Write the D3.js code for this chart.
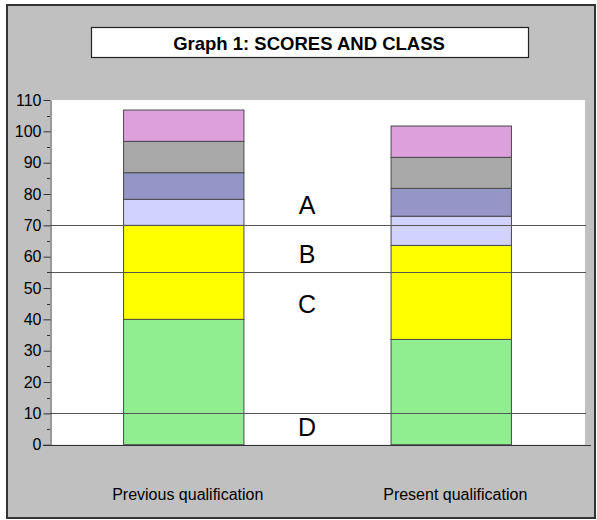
<!DOCTYPE html>
<html>
<head>
<meta charset="utf-8">
<script src="https://cdn.jsdelivr.net/npm/d3@7"></script>
<style>
  body { margin: 0; background: #fff; }
  text { font-family: "Liberation Sans", Arial, sans-serif; }
</style>
</head>
<body>
<script>
// chart data
var categories = ['Previous qualification', 'Present qualification'];
var segmentNames = ['s1', 's2', 's3', 's4', 's5', 's6'];
var prevValues = [40, 30, 8.3, 8.5, 10, 10];
var presentValues = [33.6, 30, 9.3, 8.9, 9.9, 10];
var segmentColors = ['#90ee90', '#ffff00', '#d2d2ff', '#9595c8', '#a8a8a8', '#dda0dd'];
var classLines = [70, 55, 10];
var classNames = ['A', 'B', 'C', 'D'];
var classLabelPos = [76.5, 60.8, 45, 5.6];
var yTicks = [0, 10, 20, 30, 40, 50, 60, 70, 80, 90, 100, 110];
var title = 'Graph 1: SCORES AND CLASS';

var width = 597;
var height = 520;

var svg = d3.select('body').append('svg')
  .attr('width', width)
  .attr('height', height);

// grey frame
svg.append('rect')
  .attr('x', 7).attr('y', 5)
  .attr('width', 588).attr('height', 513)
  .attr('fill', '#c0c0c0')
  .attr('stroke', '#333')
  .attr('stroke-width', 2);

// title box
svg.append('rect')
  .attr('x', 91.5).attr('y', 27.5)
  .attr('width', 437).attr('height', 30)
  .attr('fill', '#fff')
  .attr('stroke', '#222')
  .attr('stroke-width', 1.2);
svg.append('text')
  .attr('x', 309).attr('y', 49.5)
  .attr('text-anchor', 'middle')
  .attr('font-size', 18.5)
  .attr('font-weight', 'bold')
  .text(title);

var plotLeft = 50, plotRight = 585, plotTop = 100, plotBottom = 444.7;

var x = d3.scaleBand().domain(categories).range([plotLeft, plotRight])
  .paddingInner(0.55).paddingOuter(0.275);
var y = d3.scaleLinear().domain([0, 110]).range([plotBottom, plotTop]);

// white plot area
svg.append('rect')
  .attr('x', plotLeft).attr('y', plotTop)
  .attr('width', plotRight - plotLeft).attr('height', plotBottom - plotTop)
  .attr('fill', '#fff');

// stacked bars
var rows = [prevValues, presentValues].map(function(vals, i) {
  var row = { cat: categories[i] };
  segmentNames.forEach(function(k, j) { row[k] = vals[j]; });
  return row;
});
var stack = d3.stack().keys(segmentNames)(rows);

svg.selectAll('g.layer').data(stack).enter().append('g')
  .attr('class', 'layer')
  .attr('fill', function(d, i) { return segmentColors[i]; })
  .selectAll('rect').data(function(d) { return d; }).enter().append('rect')
  .attr('x', function(d) { return x(d.data.cat); })
  .attr('y', function(d) { return y(d[1]); })
  .attr('width', x.bandwidth())
  .attr('height', function(d) { return y(d[0]) - y(d[1]); })
  .attr('stroke', '#4a4a4a')
  .attr('stroke-width', 1);

// class lines
svg.selectAll('line.cls').data(classLines).enter().append('line')
  .attr('class', 'cls')
  .attr('x1', plotLeft).attr('x2', plotRight + 1)
  .attr('y1', function(d) { return Math.round(y(d)) + 0.5; })
  .attr('y2', function(d) { return Math.round(y(d)) + 0.5; })
  .attr('stroke', '#555')
  .attr('stroke-width', 1);

// class labels
svg.selectAll('text.cls').data(classNames).enter().append('text')
  .attr('class', 'cls')
  .attr('x', 307)
  .attr('y', function(d, i) { return y(classLabelPos[i]) + 9; })
  .attr('text-anchor', 'middle')
  .attr('font-size', 25)
  .text(function(d) { return d; });

// y axis
var yAxis = d3.axisLeft(y).tickValues(yTicks).tickSize(7).tickPadding(2).tickSizeOuter(0);
var ga = svg.append('g').attr('transform', 'translate(' + (plotLeft + 0.5) + ',0)').call(yAxis);
ga.selectAll('text').attr('font-size', 16).attr('font-family', '"Liberation Sans", Arial, sans-serif').attr('fill', '#000');
ga.selectAll('line').attr('stroke', '#333');
ga.select('.domain').attr('stroke', '#333');

// minor ticks
var minor = d3.range(5, 110, 10);
svg.selectAll('line.minor').data(minor).enter().append('line')
  .attr('class', 'minor')
  .attr('x1', plotLeft - 3).attr('x2', plotLeft)
  .attr('y1', function(d) { return Math.round(y(d)) + 0.5; })
  .attr('y2', function(d) { return Math.round(y(d)) + 0.5; })
  .attr('stroke', '#333');

// x baseline
svg.append('line')
  .attr('x1', plotLeft - 7).attr('x2', 591)
  .attr('y1', Math.round(plotBottom) + 0.5).attr('y2', Math.round(plotBottom) + 0.5)
  .attr('stroke', '#333');

// category labels
svg.selectAll('text.cat').data(categories).enter().append('text')
  .attr('class', 'cat')
  .attr('x', function(d) { return x(d) + x.bandwidth() / 2 + 4; })
  .attr('y', 500)
  .attr('text-anchor', 'middle')
  .attr('font-size', 16)
  .text(function(d) { return d; });
</script>
</body>
</html>
